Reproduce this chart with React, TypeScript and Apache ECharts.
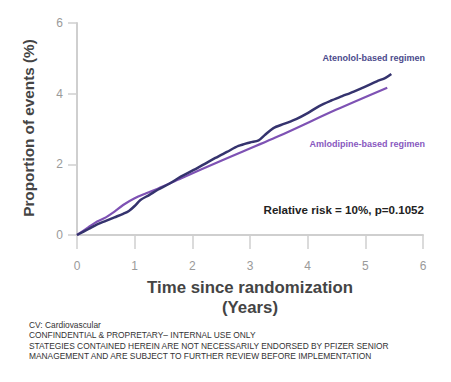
import React, { useEffect, useRef } from "react";
import * as echarts from "echarts";

const atenololTime = [0, 0.2, 0.35, 0.5, 0.65, 0.8, 0.9, 1.0, 1.1, 1.25, 1.4, 1.6, 1.8, 2.0, 2.2, 2.4, 2.6, 2.8, 3.0, 3.15, 3.25, 3.4, 3.6, 3.8, 4.0, 4.2, 4.4, 4.6, 4.8, 5.0, 5.2, 5.35, 5.45];
const atenololValues = [0, 0.17, 0.3, 0.4, 0.5, 0.6, 0.68, 0.82, 0.99, 1.13, 1.28, 1.45, 1.65, 1.82, 2.0, 2.18, 2.35, 2.52, 2.62, 2.68, 2.82, 3.02, 3.15, 3.28, 3.45, 3.65, 3.8, 3.93, 4.06, 4.2, 4.35, 4.45, 4.56];
const amlodipineTime = [0, 0.2, 0.35, 0.5, 0.65, 0.8, 1.0, 1.2, 1.4, 1.8, 2.5, 3.5, 4.5, 5.38];
const amlodipineValues = [0, 0.22, 0.38, 0.5, 0.66, 0.85, 1.04, 1.18, 1.31, 1.6, 2.1, 2.8, 3.55, 4.17];

const seriesNames = ["Atenolol-based regimen", "Amlodipine-based regimen"];
const annotation = "Relative risk = 10%, p=0.1052";
const xTitle = ["Time since randomization", "(Years)"];
const yTitle = "Proportion of events (%)";
const footerLines = [
  "CV: Cardiovascular",
  "CONFINDENTIAL & PROPRETARY– INTERNAL USE ONLY",
  "STATEGIES CONTAINED HEREIN ARE NOT NECESSARILY ENDORSED BY PFIZER SENIOR",
  "MANAGEMENT AND ARE SUBJECT TO FURTHER REVIEW BEFORE IMPLEMENTATION",
];

const FONT = "Liberation Sans, Arial, sans-serif";

export default function App() {
  const ref = useRef<HTMLDivElement>(null);
  useEffect(() => {
    if (!ref.current) return;
    const chart = echarts.init(ref.current, null, { renderer: "svg" });
    const atenolol = atenololTime.map((t, i) => [t, atenololValues[i]]);
    const amlodipine = amlodipineTime.map((t, i) => [t, amlodipineValues[i]]);
    chart.setOption({
      animation: false,
      backgroundColor: "#ffffff",
      grid: { left: 77, right: 28, top: 23, bottom: 147 },
      xAxis: {
        type: "value",
        min: 0,
        max: 6,
        interval: 1,
        axisLine: { show: true, lineStyle: { color: "#cfcfcf", width: 2 } },
        axisTick: { show: true, length: 14, lineStyle: { color: "#cfcfcf", width: 1.5 } },
        axisLabel: { color: "#9a9a9a", fontSize: 12, margin: 25, fontFamily: FONT },
        splitLine: { show: false },
      },
      yAxis: {
        type: "value",
        min: 0,
        max: 6,
        interval: 2,
        axisLine: { show: true, lineStyle: { color: "#cfcfcf", width: 2 } },
        axisTick: { show: true, length: 9, lineStyle: { color: "#cfcfcf", width: 1.5 } },
        axisLabel: { color: "#9a9a9a", fontSize: 12, margin: 14, fontFamily: FONT },
        splitLine: { show: false },
      },
      series: [
        {
          name: seriesNames[1],
          type: "line",
          data: amlodipine,
          smooth: 0.3,
          showSymbol: false,
          lineStyle: { color: "#7e52b4", width: 2.2 },
          z: 2,
        },
        {
          name: seriesNames[0],
          type: "line",
          data: atenolol,
          smooth: 0.3,
          showSymbol: false,
          lineStyle: { color: "#35336e", width: 2.5 },
          z: 3,
        },
      ],
      graphic: [
        {
          type: "text",
          x: 28,
          y: 128,
          rotation: Math.PI / 2,
          style: {
            text: yTitle,
            fill: "#444444",
            font: `bold 15.3px ${FONT}`,
            textAlign: "center",
            textVerticalAlign: "middle",
          },
        },
        {
          type: "text",
          right: 26,
          top: 53,
          style: { text: seriesNames[0], fill: "#4b4a8c", font: `bold 9px ${FONT}` },
        },
        {
          type: "text",
          right: 26,
          top: 139,
          style: { text: seriesNames[1], fill: "#8858c0", font: `bold 9px ${FONT}` },
        },
        {
          type: "text",
          right: 27,
          top: 203,
          style: { text: annotation, fill: "#222222", font: `bold 11.6px ${FONT}` },
        },
        {
          type: "text",
          x: 250,
          y: 279,
          style: { text: xTitle[0], fill: "#444444", font: `bold 16.8px ${FONT}`, textAlign: "center" },
        },
        {
          type: "text",
          x: 250,
          y: 299,
          style: { text: xTitle[1], fill: "#444444", font: `bold 16.8px ${FONT}`, textAlign: "center" },
        },
        ...footerLines.map((line, i) => ({
          type: "text",
          x: 29,
          y: 321 + i * 10.3,
          style: { text: line, fill: "#333333", font: `8.4px ${FONT}` },
        })),
      ],
    });
    return () => chart.dispose();
  }, []);
  return <div ref={ref} style={{ width: 451, height: 382, position: "absolute", left: 0, top: 0 }} />;
}
